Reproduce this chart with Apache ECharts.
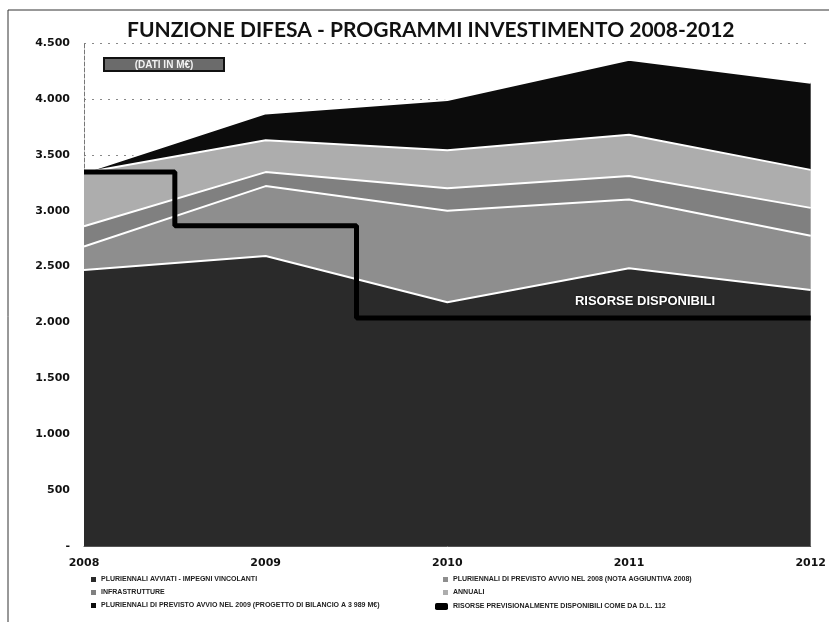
<!DOCTYPE html>
<html>
<head>
<meta charset="utf-8">
<script src="https://cdn.jsdelivr.net/npm/echarts@6/dist/echarts.min.js"></script>
<style>
html,body{margin:0;padding:0;background:#fff;}
#chart{width:829px;height:622px;}
</style>
</head>
<body>
<div id="chart"></div>
<script>
// ---- data (values in M€) ----
var years = ['2008', '2009', '2010', '2011', '2012'];
var avviatiVincolanti = [2470, 2595, 2180, 2485, 2290];   // PLURIENNALI AVVIATI - IMPEGNI VINCOLANTI
var previsto2008 = [210, 625, 820, 615, 485];             // PLURIENNALI DI PREVISTO AVVIO NEL 2008
var infrastrutture = [180, 125, 200, 210, 250];           // INFRASTRUTTURE
var annuali = [480, 285, 340, 370, 340];                  // ANNUALI
var previsto2009 = [0, 240, 449, 670, 780];               // PLURIENNALI DI PREVISTO AVVIO NEL 2009
var risorseDisponibili = [3345, 2865, 2040, 2040, 2040];  // RISORSE DISPONIBILI (step)
var yTicks = [0, 500, 1000, 1500, 2000, 2500, 3000, 3500, 4000, 4500];

var names = [
  'PLURIENNALI AVVIATI - IMPEGNI VINCOLANTI',
  'PLURIENNALI DI PREVISTO AVVIO NEL 2008 (NOTA AGGIUNTIVA 2008)',
  'INFRASTRUTTURE',
  'ANNUALI',
  'PLURIENNALI DI PREVISTO AVVIO NEL 2009 (PROGETTO DI BILANCIO A 3 989 M€)',
  'RISORSE PREVISIONALMENTE DISPONIBILI COME DA D.L. 112'
];
var colors = ['#2a2a2a', '#8e8e8e', '#808080', '#adadad', '#0c0c0c', '#000000'];
var values = [avviatiVincolanti, previsto2008, infrastrutture, annuali, previsto2009];

function fmt(v) {
  if (v === 0) return '-';
  return String(v).replace(/\B(?=(\d{3})+(?!\d))/g, '.');
}

var series = values.map(function (arr, i) {
  return {
    name: names[i],
    type: 'line',
    stack: 'tot',
    data: arr,
    symbol: 'none',
    lineStyle: { color: '#ffffff', width: 2 },
    areaStyle: { color: colors[i], opacity: 1 },
    itemStyle: { color: colors[i] },
    z: 2
  };
});
series.push({
  name: names[5],
  type: 'line',
  step: 'middle',
  data: risorseDisponibili,
  symbol: 'none',
  lineStyle: { color: '#000', width: 5 },
  itemStyle: { color: '#000' },
  z: 5
});

var chart = echarts.init(document.getElementById('chart'), null, { renderer: 'canvas' });
var legendText = { fontSize: 7, fontWeight: 'bold', color: '#222', fontFamily: 'Liberation Sans, Arial, sans-serif' };
chart.setOption({
  animation: false,
  backgroundColor: '#ffffff',
  color: colors,
  grid: { left: 84, right: 14, top: 43, bottom: 76 },
  xAxis: {
    type: 'category',
    data: years,
    boundaryGap: false,
    axisLine: { show: true, lineStyle: { color: '#555', width: 1 } },
    axisTick: { show: false },
    axisLabel: { fontSize: 11, fontWeight: 'bold', color: '#111', fontFamily: 'DejaVu Sans, Verdana, sans-serif', margin: 12 },
    splitLine: { show: false }
  },
  yAxis: {
    type: 'value',
    min: 0,
    max: 4500,
    interval: 500,
    axisLine: { show: true, lineStyle: { color: '#777', type: 'dashed', width: 1 } },
    axisTick: { show: false },
    axisLabel: {
      fontSize: 11, fontWeight: 'bold', color: '#111',
      fontFamily: 'DejaVu Sans, Verdana, sans-serif', margin: 14,
      formatter: function (v) { return yTicks.indexOf(v) >= 0 ? fmt(v) : ''; }
    },
    splitLine: { show: true, lineStyle: { color: '#888', type: [2, 6], width: 1 } }
  },
  legend: [
    {
      data: [names[0], names[2], names[4]],
      orient: 'vertical', left: 86, top: 571, itemGap: 6,
      itemWidth: 5, itemHeight: 5, icon: 'rect',
      textStyle: legendText, selectedMode: false
    },
    {
      data: [names[1], names[3]],
      orient: 'vertical', left: 438, top: 571, itemGap: 6,
      itemWidth: 5, itemHeight: 5, icon: 'rect',
      textStyle: legendText, selectedMode: false
    },
    {
      data: [names[5]],
      orient: 'vertical', left: 430, top: 598, itemGap: 6,
      itemWidth: 13, itemHeight: 7, icon: 'roundRect',
      textStyle: legendText, selectedMode: false
    }
  ],
  graphic: [
    { type: 'rect', shape: { x: 8, y: 10, width: 840, height: 640 }, style: { fill: 'none', stroke: '#333', lineWidth: 1 }, z: 100 },
    { type: 'text', left: 127, top: 20, style: { text: 'FUNZIONE DIFESA - PROGRAMMI INVESTIMENTO 2008-2012', font: 'bold 21px Lato, "Open Sans", sans-serif', fill: '#111' }, z: 100 },
    { type: 'rect', shape: { x: 104, y: 58, width: 120, height: 13 }, style: { fill: '#6b6b6b', stroke: '#111', lineWidth: 2 }, z: 100 },
    { type: 'text', x: 164, y: 65, style: { text: '(DATI IN M€)', font: 'bold 10px "Liberation Sans", Arial, sans-serif', fill: '#f2f2f2', align: 'center', verticalAlign: 'middle' }, z: 101 },
    { type: 'text', x: 645, y: 301, style: { text: 'RISORSE DISPONIBILI', font: 'bold 13px "Liberation Sans", Arial, sans-serif', fill: '#ffffff', align: 'center', verticalAlign: 'middle', textShadowColor: '#000', textShadowBlur: 2 }, z: 100 }
  ],
  series: series
});
</script>
</body>
</html>
